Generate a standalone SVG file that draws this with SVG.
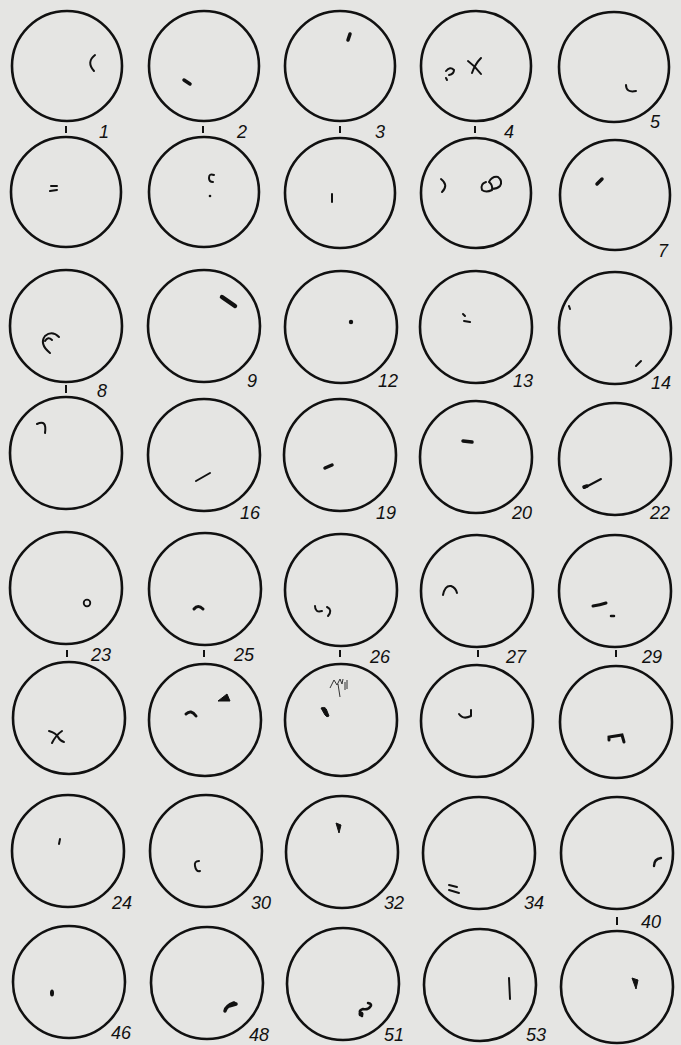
<svg xmlns="http://www.w3.org/2000/svg" width="681" height="1045" viewBox="0 0 681 1045">
<style>
.c{fill:none;stroke:#111;stroke-width:2.6}
.m{fill:none;stroke:#111;stroke-width:2;stroke-linecap:round;stroke-linejoin:round}
.t{fill:none;stroke:#111;stroke-width:3.5;stroke-linecap:round}
.f{fill:#111;stroke:#111;stroke-width:1;stroke-linejoin:round}
.k{stroke:#111;stroke-width:2}
text{font-family:"Liberation Sans",Arial,sans-serif;font-style:italic;font-size:18px;fill:#111}
</style>
<rect width="681" height="1045" fill="#e5e5e3"/>
<g id="connectors">
<line class="k" x1="66" y1="126" x2="66" y2="133"/>
<line class="k" x1="203" y1="126" x2="203" y2="133"/>
<line class="k" x1="340" y1="126" x2="340" y2="133"/>
<line class="k" x1="475" y1="126" x2="475" y2="133"/>
<line class="k" x1="66" y1="385" x2="66" y2="393"/>
<line class="k" x1="67" y1="650" x2="67" y2="657"/>
<line class="k" x1="204" y1="650" x2="204" y2="657"/>
<line class="k" x1="340" y1="650" x2="340" y2="657"/>
<line class="k" x1="478" y1="650" x2="478" y2="657"/>
<line class="k" x1="616" y1="650" x2="616" y2="657"/>
<line class="k" x1="617" y1="917" x2="617" y2="925"/>
</g>
<g id="n1"><circle class="c" cx="67" cy="66" r="55"/><path class="m" d="M95 55 Q86 62 94 71"/><text x="99" y="138">1</text></g>
<g id="n2"><circle class="c" cx="204" cy="66" r="55"/><line class="t" x1="184" y1="80" x2="190" y2="84"/><text x="237" y="138">2</text></g>
<g id="n3"><circle class="c" cx="340" cy="66" r="55"/><line class="t" x1="350" y1="34" x2="348" y2="40"/><text x="375" y="138">3</text></g>
<g id="n4"><circle class="c" cx="476" cy="66" r="55"/><path class="m" d="M446 71 Q450 66 454 70 Q454 74 449 75 M446 78 L447 80"/><path class="m" d="M468 61 Q475 66 481 74 M481 58 Q475 64 472 73"/><text x="504" y="138">4</text></g>
<g id="n5"><circle class="c" cx="614" cy="67" r="55"/><path class="m" d="M626 85 Q626 93 636 91"/><text x="650" y="128">5</text></g>
<g id="n6"><circle class="c" cx="66" cy="192" r="55"/><path class="m" d="M51 186 L57 186 M50 191 L57 190"/></g>
<g id="n7"><circle class="c" cx="204" cy="192" r="55"/><path class="m" d="M214 175 Q209 173 209 178 Q209 182 213 182"/><circle cx="210" cy="196" r="1.3" fill="#111"/></g>
<g id="n8"><circle class="c" cx="340" cy="193" r="55"/><line class="m" x1="332" y1="194" x2="332" y2="202"/></g>
<g id="n9"><circle class="c" cx="476" cy="193" r="55"/><path class="m" d="M441 179 Q449 185 442 192"/><path class="m" d="M486 182 Q480 184 482 190 Q486 193 492 190 Q493 185 489 182 M489 182 Q492 176 498 177 Q503 181 500 186 Q497 189 492 189"/></g>
<g id="n10"><circle class="c" cx="615" cy="195" r="55"/><line class="t" x1="597" y1="184" x2="602" y2="179"/><text x="658" y="257">7</text></g>
<g id="n11"><circle class="c" cx="66" cy="326" r="56"/><path class="m" d="M59 337 Q52 330 45 336 Q39 344 50 353 M52 340 Q48 336 45 341"/><text x="97" y="397">8</text></g>
<g id="n12"><circle class="c" cx="204" cy="326" r="56"/><path class="t" style="stroke-width:4.5" d="M222 297 L235 306"/><text x="247" y="387">9</text></g>
<g id="n13"><circle class="c" cx="341" cy="327" r="56"/><circle cx="351" cy="322" r="2.2" fill="#111"/><text x="378" y="387">12</text></g>
<g id="n14"><circle class="c" cx="476" cy="327" r="56"/><path class="m" d="M463 314 L465 316 M464 321 L470 322"/><text x="513" y="387">13</text></g>
<g id="n15"><circle class="c" cx="615" cy="328" r="56"/><line class="m" x1="569" y1="306" x2="570" y2="309"/><line class="m" x1="636" y1="366" x2="641" y2="361"/><text x="651" y="389">14</text></g>
<g id="n16"><circle class="c" cx="66" cy="453" r="56"/><path class="m" d="M37 424 Q47 419 45 433"/></g>
<g id="n17"><circle class="c" cx="204" cy="455" r="56"/><line class="m" x1="196" y1="481" x2="210" y2="473"/><text x="240" y="519">16</text></g>
<g id="n18"><circle class="c" cx="340" cy="455" r="56"/><line class="t" x1="325" y1="468" x2="332" y2="465"/><text x="376" y="519">19</text></g>
<g id="n19"><circle class="c" cx="476" cy="457" r="56"/><line class="t" x1="463" y1="441" x2="472" y2="442"/><text x="512" y="519">20</text></g>
<g id="n20"><circle class="c" cx="615" cy="459" r="56"/><line class="m" x1="584" y1="488" x2="601" y2="479"/><line class="t" x1="584" y1="487" x2="587" y2="486"/><text x="650" y="519">22</text></g>
<g id="n21"><circle class="c" cx="66" cy="588" r="56"/><circle cx="87" cy="603" r="3.3" fill="none" stroke="#111" stroke-width="1.8"/><text x="91" y="661">23</text></g>
<g id="n22"><circle class="c" cx="205" cy="589" r="56"/><path class="t" style="stroke-width:3" d="M194 609 Q198 604 203 609"/><text x="234" y="661">25</text></g>
<g id="n23"><circle class="c" cx="341" cy="590" r="56"/><path class="m" d="M315 606 Q315 613 322 611 M327 607 Q333 610 328 616"/><text x="370" y="663">26</text></g>
<g id="n24"><circle class="c" cx="477" cy="591" r="56"/><path class="m" d="M443 595 Q445 585 451 586 Q456 588 457 593"/><text x="506" y="663">27</text></g>
<g id="n25"><circle class="c" cx="615" cy="591" r="56"/><path class="t" style="stroke-width:3" d="M593 606 Q600 605 606 603"/><line class="t" style="stroke-width:2.5" x1="611" y1="616" x2="614" y2="616"/><text x="642" y="663">29</text></g>
<g id="n26"><circle class="c" cx="69" cy="718" r="56"/><path class="m" d="M49 731 Q56 733 58 737 Q60 741 64 742 M62 731 Q56 735 52 743"/></g>
<g id="n27"><circle class="c" cx="205" cy="720" r="56"/><path class="t" style="stroke-width:3" d="M186 714 Q191 709 196 716"/><path class="f" d="M218 701 L227 694 L230 701 Z"/></g>
<g id="n28"><circle class="c" cx="341" cy="720" r="56"/><path class="f" d="M321 708 Q326 706 327 711 L329 716 Q327 718 325 715 Z"/><path fill="none" stroke="#333" stroke-width="1" d="M330 688 L334 680 L337 685 L340 679 L342 684 L343 679 M345 682 L345 690 M347 680 L347 689 M338 684 L340 697"/></g>
<g id="n29"><circle class="c" cx="477" cy="721" r="56"/><path class="m" d="M459 714 Q463 720 471 716 L471 710"/></g>
<g id="n30"><circle class="c" cx="616" cy="722" r="56"/><path class="t" style="stroke-width:3" d="M609 740 L609 737 L622 735 L624 742"/></g>
<g id="n31"><circle class="c" cx="68" cy="851" r="56"/><line class="m" x1="60" y1="839" x2="59" y2="844"/><text x="112" y="909">24</text></g>
<g id="n32"><circle class="c" cx="206" cy="851" r="56"/><path class="m" d="M199 861 Q194 861 195 866 Q196 872 200 871"/><text x="251" y="909">30</text></g>
<g id="n33"><circle class="c" cx="342" cy="852" r="56"/><path class="f" d="M336 823 L341 825 L339 833 Z"/><text x="384" y="909">32</text></g>
<g id="n34"><circle class="c" cx="479" cy="853" r="56"/><path class="m" d="M449 885 L457 887 M449 890 L459 893"/><text x="524" y="909">34</text></g>
<g id="n35"><circle class="c" cx="617" cy="853" r="56"/><path class="m" style="stroke-width:2.4" d="M654 866 Q654 859 661 858"/><text x="641" y="928">40</text></g>
<g id="n36"><circle class="c" cx="69" cy="982" r="56"/><ellipse cx="52" cy="993" rx="2" ry="3.5" fill="#111"/><text x="111" y="1039">46</text></g>
<g id="n37"><circle class="c" cx="207" cy="983" r="56"/><path class="t" style="stroke-width:3.5" d="M225 1011 Q226 1006 234 1003 M229 1006 L236 1004"/><text x="249" y="1041">48</text></g>
<g id="n38"><circle class="c" cx="343" cy="984" r="56"/><path class="m" style="stroke-width:2.5" d="M362 1016 Q357 1011 363 1009 Q368 1010 370 1007 Q373 1004 368 1003"/><circle cx="361" cy="1014" r="2.5" fill="#111"/><text x="384" y="1041">51</text></g>
<g id="n39"><circle class="c" cx="480" cy="985" r="56"/><line class="m" x1="509" y1="978" x2="510" y2="999"/><text x="526" y="1041">53</text></g>
<g id="n40"><circle class="c" cx="617" cy="987" r="56"/><path class="f" d="M632 978 L638 980 L636 989 Z"/></g>
</svg>
